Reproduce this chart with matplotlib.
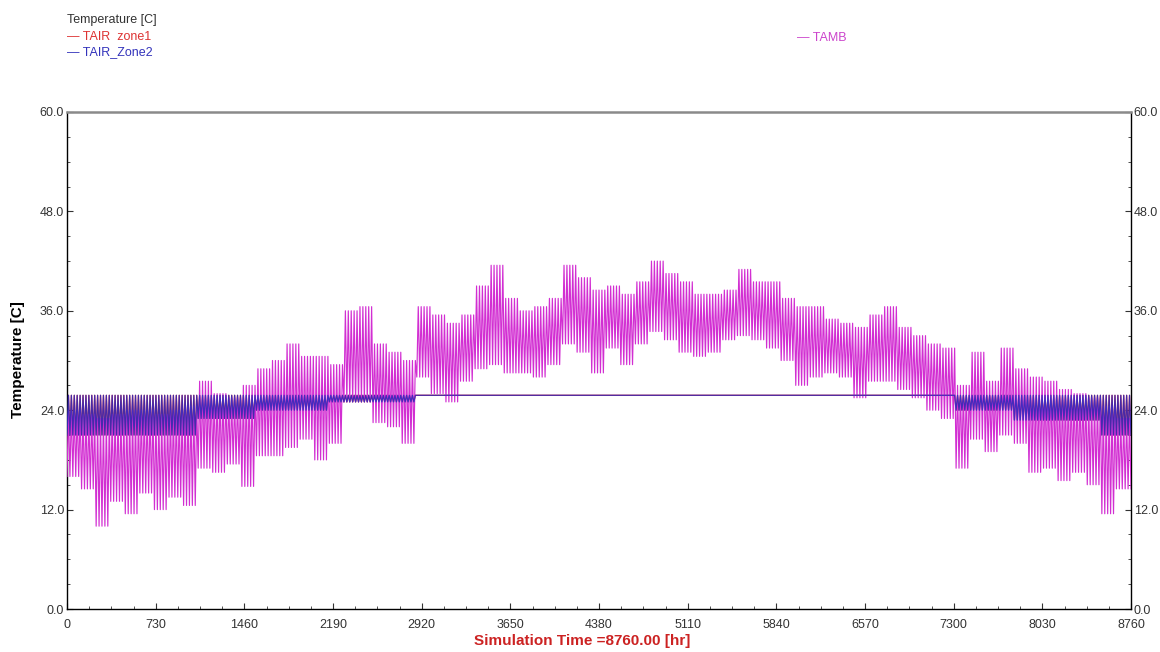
import numpy as np
import matplotlib
matplotlib.use('Agg')
import matplotlib.pyplot as plt
from matplotlib.ticker import MultipleLocator, FormatStrFormatter

plt.rcParams['font.family'] = ['Liberation Sans', 'DejaVu Sans']

# ---- data (one value per 5-day block, 73 blocks) ----
DAYS_PER_BLOCK = 5
TAMB_MAX = [24, 23.5, 23, 23.5, 24, 24, 23.5, 24, 24.5, 27.5,
            26, 25.5, 27, 29, 30, 32, 30.5, 30.5, 29.5, 36,
            36.5, 32, 31, 30, 36.5, 35.5, 34.5, 35.5, 39, 41.5,
            37.5, 36, 36.5, 37.5, 41.5, 40, 38.5, 39, 38, 39.5,
            42, 40.5, 39.5, 38, 38, 38.5, 41, 39.5, 39.5, 37.5,
            36.5, 36.5, 35, 34.5, 34, 35.5, 36.5, 34, 33, 32,
            31.5, 27, 31, 27.5, 31.5, 29, 28, 27.5, 26.5, 26,
            25.5, 24.5, 23]
TAMB_MIN = [16, 14.5, 10, 13, 11.5, 14, 12, 13.5, 12.5, 17,
            16.5, 17.5, 14.8, 18.5, 18.5, 19.5, 20.5, 18, 20, 25,
            25, 22.5, 22, 20, 28, 26, 25, 27.5, 29, 29.5,
            28.5, 28.5, 28, 29.5, 32, 31, 28.5, 31.5, 29.5, 32,
            33.5, 32.5, 31, 30.5, 31, 32.5, 33, 32.5, 31.5, 30,
            27, 28, 28.5, 28, 25.5, 27.5, 27.5, 26.5, 25.5, 24,
            23, 17, 20.5, 19, 21, 20, 16.5, 17, 15.5, 16.5,
            15, 11.5, 14.5]
ZONE_MAX = 25.8
ZONE_MIN = [21, 21, 21, 21, 21, 21, 21, 21, 21, 23,
            23, 23, 23, 24, 24, 24, 24, 24, 25, 25,
            25, 25, 25, 25, 25.8, 25.8, 25.8, 25.8, 25.8, 25.8,
            25.8, 25.8, 25.8, 25.8, 25.8, 25.8, 25.8, 25.8, 25.8, 25.8,
            25.8, 25.8, 25.8, 25.8, 25.8, 25.8, 25.8, 25.8, 25.8, 25.8,
            25.8, 25.8, 25.8, 25.8, 25.8, 25.8, 25.8, 25.8, 25.8, 25.8,
            25.8, 24, 24, 24, 24, 22.8, 22.8, 22.8, 22.8, 22.8,
            22.8, 21, 21]
X_TICKS = [0, 730, 1460, 2190, 2920, 3650, 4380, 5110, 5840, 6570, 7300, 8030, 8760]
Y_TICKS = [0, 12, 24, 36, 48, 60]


def daily_series(block_min, block_max):
    dmin = np.repeat(np.asarray(block_min, float), DAYS_PER_BLOCK)
    dmax = np.repeat(np.asarray(block_max, float), DAYS_PER_BLOCK)
    day = np.arange(dmin.size)
    t = np.column_stack([day * 24, day * 24 + 12]).ravel()
    v = np.column_stack([dmin, dmax]).ravel()
    t = np.append(t, dmin.size * 24)
    v = np.append(v, dmin[-1])
    return t, v


t_amb, v_amb = daily_series(TAMB_MIN, TAMB_MAX)
t_z, v_z = daily_series(ZONE_MIN, [ZONE_MAX] * len(ZONE_MIN))

fig = plt.figure(figsize=(11.6, 6.52), dpi=100)
ax = fig.add_axes([67 / 1160, 1 - 609 / 652, (1131 - 67) / 1160, (609 - 112) / 652])

ax.plot(t_z, v_z, color='#e02020', lw=0.9, zorder=2)
ax.plot(t_amb, v_amb, color='#d22ed2', lw=0.85, zorder=3)
ax.plot(t_z, v_z, color='#2b2bc0', lw=0.9, alpha=0.85, zorder=4)

ax.set_xlim(0, 8760)
ax.set_ylim(0, 60)
ax.set_xticks(X_TICKS)
ax.xaxis.set_minor_locator(MultipleLocator(182.5))
ax.set_yticks(Y_TICKS)
ax.yaxis.set_minor_locator(MultipleLocator(3))
ax.yaxis.set_major_formatter(FormatStrFormatter('%.1f'))
ax.tick_params(which='both', direction='in', right=True, labelright=True,
               top=False, colors='#333333', labelsize=9)
ax.tick_params(axis='y', pad=2)
ax.tick_params(axis='x', pad=7)
ax.tick_params(which='major', length=4, width=0.8)
ax.tick_params(which='minor', length=2.5, width=0.6)
for s in ['left', 'right', 'bottom']:
    ax.spines[s].set_color('black')
    ax.spines[s].set_linewidth(1.0)
ax.spines['top'].set_color('#8a8a8a')
ax.spines['top'].set_linewidth(1.8)

fig.text(582 / 1160, 1 - 641 / 652, 'Simulation Time =8760.00 [hr]', color='#cc2222',
         fontsize=11, fontweight='bold', ha='center', va='center')
fig.text(18 / 1160, 1 - 360 / 652, 'Temperature [C]', color='black', fontsize=11,
         fontweight='bold', rotation=90, ha='center', va='center')

# legend-style header texts
fig.text(67 / 1160, 1 - 20 / 652, 'Temperature [C]', color='#333333', fontsize=9,
         ha='left', va='center')
fig.text(67 / 1160, 1 - 37 / 652, '\u2014 TAIR  zone1', color='#dd3333', fontsize=9,
         ha='left', va='center')
fig.text(67 / 1160, 1 - 52 / 652, '\u2014 TAIR_Zone2', color='#3333bb', fontsize=9,
         ha='left', va='center')
fig.text(797 / 1160, 1 - 38 / 652, '\u2014 TAMB', color='#cc44cc', fontsize=9,
         ha='left', va='center')

fig.savefig('out.png', dpi=100, facecolor='white')
